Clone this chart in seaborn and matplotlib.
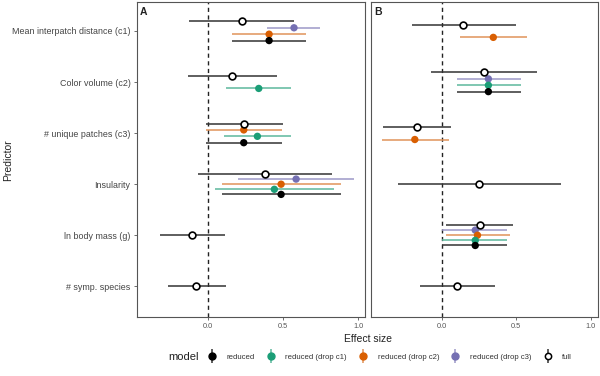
import numpy as np
import pandas as pd
import matplotlib
matplotlib.use('Agg')
import matplotlib.pyplot as plt
from matplotlib.lines import Line2D
from matplotlib.legend_handler import HandlerTuple
import seaborn as sns

# Дані
predictors = ['Mean interpatch distance (c1)', 'Color volume (c2)', '# unique patches (c3)',
              'Insularity', 'ln body mass (g)', '# symp. species']
models = ['reduced', 'reduced (drop c1)', 'reduced (drop c2)', 'reduced (drop c3)', 'full']
nan = np.nan

# Панель A
a_full_est = [0.224, 0.160, 0.242, 0.382, -0.105, -0.080]
a_full_lo = [-0.127, -0.133, -0.013, -0.064, -0.318, -0.269]
a_full_hi = [0.573, 0.458, 0.502, 0.824, 0.113, 0.118]
a_red_est = [0.407, nan, 0.238, 0.487, nan, nan]
a_red_lo = [0.162, nan, -0.013, 0.091, nan, nan]
a_red_hi = [0.653, nan, 0.493, 0.884, nan, nan]
a_c1_est = [nan, 0.338, 0.329, 0.442, nan, nan]
a_c1_lo = [nan, 0.120, 0.107, 0.047, nan, nan]
a_c1_hi = [nan, 0.555, 0.551, 0.840, nan, nan]
a_c2_est = [0.407, nan, 0.238, 0.487, nan, nan]
a_c2_lo = [0.162, nan, -0.013, 0.091, nan, nan]
a_c2_hi = [0.653, nan, 0.493, 0.884, nan, nan]
a_c3_est = [0.573, nan, nan, 0.587, nan, nan]
a_c3_lo = [0.395, nan, nan, 0.202, nan, nan]
a_c3_hi = [0.747, nan, nan, 0.976, nan, nan]

# Панель B
b_full_est = [0.146, 0.285, -0.168, 0.250, 0.254, 0.106]
b_full_lo = [-0.200, -0.070, -0.395, -0.296, 0.027, -0.146]
b_full_hi = [0.495, 0.640, 0.060, 0.800, 0.477, 0.358]
b_red_est = [nan, 0.313, nan, nan, 0.225, nan]
b_red_lo = [nan, 0.100, nan, nan, 0.000, nan]
b_red_hi = [nan, 0.530, nan, nan, 0.440, nan]
b_c1_est = [nan, 0.313, nan, nan, 0.225, nan]
b_c1_lo = [nan, 0.100, nan, nan, 0.000, nan]
b_c1_hi = [nan, 0.530, nan, nan, 0.440, nan]
b_c2_est = [0.346, nan, -0.180, nan, 0.240, nan]
b_c2_lo = [0.120, nan, -0.400, nan, 0.027, nan]
b_c2_hi = [0.570, nan, 0.050, nan, 0.460, nan]
b_c3_est = [nan, 0.313, nan, nan, 0.225, nan]
b_c3_lo = [nan, 0.100, nan, nan, 0.005, nan]
b_c3_hi = [nan, 0.530, nan, nan, 0.440, nan]

x_ticks = [0.0, 0.5, 1.0]
x_ticklabels = ['0.0', '0.5', '1.0']


def make_df(panel, series):
    rows = []
    for model, (est, lo, hi) in series.items():
        for p, e, l, h in zip(predictors, est, lo, hi):
            if not np.isnan(e):
                rows.append({'panel': panel, 'predictor': p, 'model': model,
                             'est': e, 'lo': l, 'hi': h})
    return pd.DataFrame(rows)


df = pd.concat([
    make_df('A', {'reduced': (a_red_est, a_red_lo, a_red_hi),
                  'reduced (drop c1)': (a_c1_est, a_c1_lo, a_c1_hi),
                  'reduced (drop c2)': (a_c2_est, a_c2_lo, a_c2_hi),
                  'reduced (drop c3)': (a_c3_est, a_c3_lo, a_c3_hi),
                  'full': (a_full_est, a_full_lo, a_full_hi)}),
    make_df('B', {'reduced': (b_red_est, b_red_lo, b_red_hi),
                  'reduced (drop c1)': (b_c1_est, b_c1_lo, b_c1_hi),
                  'reduced (drop c2)': (b_c2_est, b_c2_lo, b_c2_hi),
                  'reduced (drop c3)': (b_c3_est, b_c3_lo, b_c3_hi),
                  'full': (b_full_est, b_full_lo, b_full_hi)}),
], ignore_index=True)

# Позиції з dodge (ширина 0.5), порядок зверху вниз
dodge_order = ['full', 'reduced (drop c3)', 'reduced (drop c2)', 'reduced (drop c1)', 'reduced']
df['rank'] = df['model'].map({m: i for i, m in enumerate(dodge_order)})
df = df.sort_values(['panel', 'predictor', 'rank'])
df['n'] = df.groupby(['panel', 'predictor'])['model'].transform('count')
df['k'] = df.groupby(['panel', 'predictor']).cumcount()
df['ypos'] = df['predictor'].map({p: i for i, p in enumerate(predictors)}) \
    + (df['k'] - (df['n'] - 1) / 2) * 0.5 / df['n']

palette = {'reduced': '#000000', 'reduced (drop c1)': '#1B9E77',
           'reduced (drop c2)': '#D95F02', 'reduced (drop c3)': '#7570B3',
           'full': '#000000'}
line_col = {'reduced': '#333333', 'reduced (drop c1)': '#5DB89C',
            'reduced (drop c2)': '#E0935A', 'reduced (drop c3)': '#9C98C8',
            'full': '#333333'}

sns.set_style('white')
plt.rcParams['font.family'] = ['Liberation Sans', 'DejaVu Sans']

fig = plt.figure(figsize=(6, 3.76), dpi=100)
ax_a = fig.add_axes([0.228, 0.157, 0.38, 0.838])
ax_b = fig.add_axes([0.618, 0.157, 0.378, 0.838])

for ax, panel in [(ax_a, 'A'), (ax_b, 'B')]:
    d = df[df['panel'] == panel]
    ax.axvline(0, color='#222222', lw=1.0, ls=(0, (3, 2.5)), zorder=1)
    for _, r in d.iterrows():
        ax.hlines(r['ypos'], r['lo'], r['hi'], color=line_col[r['model']], lw=1.1, zorder=2)
    filled = d[d['model'] != 'full']
    sns.scatterplot(data=filled, x='est', y='ypos', hue='model', palette=palette,
                    s=28, edgecolor=None, linewidth=0, legend=False, ax=ax, zorder=3)
    sns.scatterplot(data=d[d['model'] == 'full'], x='est', y='ypos', color='white',
                    edgecolor='black', linewidth=1.2, s=24, legend=False, ax=ax, zorder=4)
    ax.set_xlim(-0.475, 1.045)
    ax.set_ylim(5.6, -0.57)
    ax.set_xticks(x_ticks)
    ax.set_xticklabels(x_ticklabels)
    ax.set_yticks(range(len(predictors)))
    ax.set_xlabel('')
    ax.set_ylabel('')
    for s in ax.spines.values():
        s.set_color('#555555')
        s.set_linewidth(0.8)
    ax.tick_params(axis='both', length=2.5, width=0.6, color='#555555',
                   labelsize=5.3, labelcolor='#555555', pad=2, direction='out',
                   bottom=True, left=True)
    ax.text(0.015, 0.985, panel, transform=ax.transAxes, ha='left', va='top',
            fontsize=7.5, fontweight='bold', color='#222222')

ax_a.set_yticklabels(predictors, fontsize=6.4, color='#444444')
ax_b.set_yticklabels([])
ax_b.tick_params(axis='y', left=False)

fig.text(0.013, 0.575, 'Predictor', rotation=90, ha='center', va='center',
         fontsize=7.5, color='#222222')
fig.text(0.613, 0.098, 'Effect size', ha='center', va='center',
         fontsize=7.5, color='#222222')

# Легенда
handles = []
for m in models:
    vline = Line2D([], [], color=line_col[m], marker='|', markersize=10, markeredgewidth=1.1, ls='none')
    if m == 'full':
        pt = Line2D([], [], marker='o', markersize=4.5, markerfacecolor='white',
                    markeredgecolor='black', markeredgewidth=1.1, ls='none')
    else:
        pt = Line2D([], [], marker='o', markersize=5, markerfacecolor=palette[m],
                    markeredgecolor=palette[m], ls='none')
    handles.append((vline, pt))

fig.text(0.28, 0.05, 'model', ha='left', va='center', fontsize=8, color='#222222')
leg = fig.legend(handles, models, loc='center left', bbox_to_anchor=(0.345, 0.05), ncol=5,
                 frameon=False, fontsize=5.6, handler_map={tuple: HandlerTuple(ndivide=1, pad=0)},
                 handlelength=1.2, handletextpad=1.3, columnspacing=1.45,
                 borderaxespad=0, borderpad=0)
for t in leg.get_texts():
    t.set_color('#333333')

fig.savefig('out.png', dpi=100)
